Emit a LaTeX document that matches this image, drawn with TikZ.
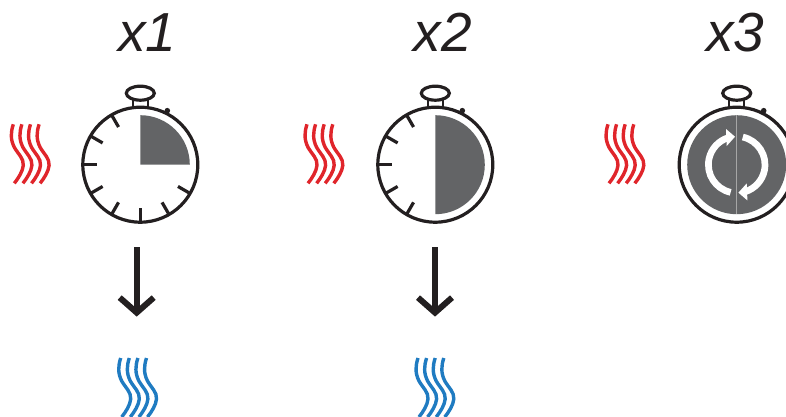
\documentclass[tikz,border=0pt]{standalone}
\usepackage{fontspec}
\setmainfont{Liberation Sans}
\definecolor{inkdark}{HTML}{231F20}
\definecolor{fillgray}{HTML}{636466}
\definecolor{heatred}{HTML}{E0252B}
\definecolor{coolblue}{HTML}{1F7BC1}
\newcommand{\wavepath}[1]{%
  \foreach \k in {0,1,2,3}{
    \draw[wavestroke,#1,xshift=8.6*\k pt] (0,0) .. controls (-2.6,-8) and (-3,-15) .. (1,-23) .. controls (5,-30) and (10.5,-34) .. (10,-41) .. controls (9.5,-47) and (5,-54) .. (1,-59);
  }}
\newcommand{\watchbody}[1]{%
  \draw[watchline] (0,0) circle[radius=57.5];
  \draw[watchline] (0,71.5) ellipse[x radius=14,y radius=7];
  \draw[watchline,line width=2.4pt] (-7.5,64.5) rectangle (7.5,58);
  \fill[inkdark] (27,54) circle[radius=2.8];
  \foreach \a in {#1}{\draw[watchline] (\a:57) -- (\a:43.5);}
}
\tikzset{
  x=1pt,y=1pt,
  watchline/.style={draw=inkdark,line width=3.2pt},
  wavestroke/.style={line width=3.4pt},
  bigarrow/.style={draw=inkdark,line width=6pt,miter limit=10},
  factor/.style={font=\itshape\fontsize{55}{55}\selectfont,text=inkdark,inner sep=0pt,anchor=base},
  sector/.style={fill=fillgray,draw=none},
  turn/.style={draw=white,line width=6.7pt},
}
\begin{document}
\begin{tikzpicture}
\useasboundingbox (0,0) rectangle (786,416);
% labels
\node[factor] (lone) at (147.5,364.5) {x1};
\node[factor] (ltwo) at (443,364.5) {x2};
\node[factor] (lthree) at (735.5,364.5) {x3};
% watch 1
\begin{scope}[shift={(140.3,251.3)}]
  \watchbody{120,150,180,210,240,270,300,330}
  \fill[sector] (0,0) -- (0,49.5) arc[start angle=90,end angle=0,radius=49.5] -- cycle;
\end{scope}
% watch 2
\begin{scope}[shift={(435.3,251.3)}]
  \watchbody{120,150,180,210,240}
  \fill[sector] (0,49.5) arc[start angle=90,end angle=-90,radius=49.5] -- cycle;
\end{scope}
% watch 3
\begin{scope}[shift={(736.7,251.3)}]
  \watchbody{}
  \fill[sector] (0,0) circle[radius=49.5];
  \draw[line width=0.6pt,draw=gray!70] (0,49.5) -- (0,-49.5);
  \foreach \r in {0,180}{
    \begin{scope}[rotate=\r]
      \draw[turn] (257.6:28.3) arc[start angle=257.6,end angle=108,radius=28.3];
      \fill[white] (-10.7,35.7) -- (-1.7,28) -- (-10,18.7) -- cycle;
    \end{scope}
  }
\end{scope}
% heat waves
\begin{scope}[shift={(13.3,291.7)}]\wavepath{heatred}\end{scope}
\begin{scope}[shift={(307,291.7)}]\wavepath{heatred}\end{scope}
\begin{scope}[shift={(608,291.7)}]\wavepath{heatred}\end{scope}
% cool waves
\begin{scope}[shift={(120.7,58)}]\wavepath{coolblue}\end{scope}
\begin{scope}[shift={(418,58)}]\wavepath{coolblue}\end{scope}
% arrows
\coordinate (aonetop) at (136.7,168.7);
\coordinate (aonetip) at (136.7,103.4);
\coordinate (atwotop) at (435,168.7);
\coordinate (atwotip) at (435,103.4);
\draw[bigarrow] (aonetop) -- (aonetip);
\draw[bigarrow] ([shift={(-17,15)}]aonetip) -- (aonetip) -- ([shift={(17,15)}]aonetip);
\draw[bigarrow] (atwotop) -- (atwotip);
\draw[bigarrow] ([shift={(-17,15)}]atwotip) -- (atwotip) -- ([shift={(17,15)}]atwotip);
\end{tikzpicture}
\end{document}
